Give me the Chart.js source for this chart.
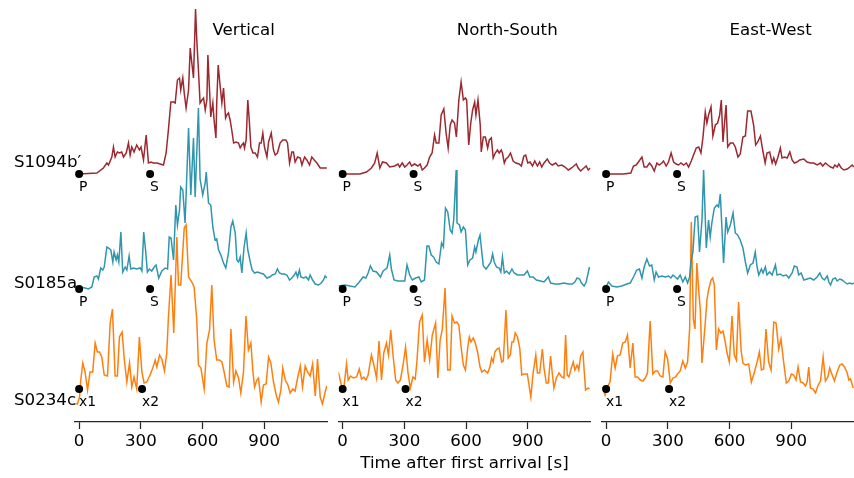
<!DOCTYPE html>
<html>
<head>
<meta charset="utf-8">
<script src="https://cdn.jsdelivr.net/npm/chart.js@4/dist/chart.umd.min.js"></script>
<style>
  html, body { margin: 0; padding: 0; background: #fff; }
  #wrap { position: relative; width: 854px; height: 478px; }
  #wrap canvas { position: absolute; left: 0; top: 0; }
</style>
</head>
<body>
<div id="wrap">
  <canvas id="c0" width="854" height="478"></canvas>
  <canvas id="c1" width="854" height="478"></canvas>
  <canvas id="c2" width="854" height="478"></canvas>
</div>
<script>
// stations (top to bottom) and components
const stations = ['S1094b\u2032', 'S0185a', 'S0234c'];
const components = ['Vertical', 'North-South', 'East-West'];
const stationColors = ['#9c2830', '#3096ad', '#ff7f0e'];
const stationOffset = [248, 133, 33];     // trace baseline (y units)
const stationLabelPos = [259, 138, 21];   // where station names sit on the y axis
const pickTimes = [[0, 345], [0, 345], [0, 306]];
const pickNames = [['P', 'S'], ['P', 'S'], ['x1', 'x2']];
const xTicks = [0, 300, 600, 900];

// envelopes: [time after first arrival (s), relative amplitude]
const vertical_S1094b = [[0,0],[86,1],[118,6],[135,11],[143,9],[159,17],[167,27],[175,17],[186,22],[196,21],[207,22],[216,17],[229,21],[240,31],[248,19],[256,27],[267,22],[280,29],[293,24],[301,27],[313,14],[326,39],[337,11],[349,12],[361,11],[378,11],[394,10],[410,9],[423,21],[434,44],[446,72],[459,72],[467,71],[478,94],[488,96],[494,84],[504,96],[511,81],[520,66],[532,84],[540,126],[548,111],[556,96],[566,165],[572,134],[580,104],[588,71],[597,74],[605,76],[613,64],[621,74],[626,119],[634,84],[640,57],[650,71],[656,54],[665,36],[669,71],[676,109],[686,87],[694,71],[702,86],[712,56],[718,59],[726,61],[734,54],[742,44],[751,31],[763,32],[775,31],[783,26],[791,29],[799,31],[804,26],[812,34],[820,74],[827,54],[835,27],[845,21],[856,21],[867,17],[877,31],[885,31],[893,41],[901,27],[913,17],[921,32],[934,41],[945,24],[953,19],[964,21],[977,31],[990,34],[1005,34],[1013,31],[1023,11],[1034,22],[1042,22],[1050,12],[1062,17],[1075,16],[1083,9],[1096,17],[1107,14],[1120,9],[1131,17],[1143,14],[1156,11],[1172,6],[1188,6],[1204,6]];
const vertical_S0185a = [[0,1],[5,2],[29,1],[45,0],[62,2],[73,12],[86,13],[94,10],[105,21],[115,19],[122,22],[135,42],[143,41],[154,39],[164,27],[170,37],[180,29],[186,34],[193,27],[203,57],[212,17],[224,22],[232,19],[243,33],[251,20],[264,21],[280,20],[297,21],[305,18],[314,57],[323,39],[332,17],[342,20],[353,18],[365,22],[374,24],[387,11],[402,18],[418,21],[430,20],[438,52],[447,51],[459,29],[470,84],[478,64],[488,79],[494,102],[504,99],[515,66],[532,161],[543,94],[556,151],[564,92],[580,181],[588,110],[601,94],[613,106],[618,117],[629,86],[640,84],[650,62],[661,49],[669,50],[678,39],[689,34],[702,26],[713,21],[726,36],[738,62],[747,68],[759,56],[767,29],[775,27],[783,32],[791,16],[802,42],[812,56],[820,39],[832,27],[841,19],[853,16],[867,17],[880,16],[896,15],[913,11],[926,12],[939,14],[953,15],[964,20],[974,16],[986,15],[997,15],[1010,14],[1023,9],[1034,11],[1046,14],[1054,17],[1062,12],[1071,19],[1078,12],[1091,11],[1104,12],[1115,9],[1123,14],[1135,9],[1148,5],[1164,4],[1177,6],[1188,9],[1196,13],[1204,11]];
const vertical_S0234c = [[-19,-15],[-8,-15],[2,-8],[8,9],[18,26],[29,17],[41,-1],[53,17],[66,17],[78,46],[89,37],[99,37],[110,32],[122,14],[138,13],[151,66],[162,80],[175,13],[186,13],[196,52],[209,57],[219,31],[232,7],[245,26],[256,2],[267,12],[280,0],[293,52],[305,17],[316,6],[329,7],[345,14],[358,21],[370,29],[378,22],[391,34],[402,30],[415,18],[426,36],[434,71],[447,114],[460,56],[475,152],[483,104],[494,104],[511,161],[520,164],[532,112],[548,107],[559,102],[572,69],[580,24],[592,21],[608,0],[621,46],[634,59],[645,104],[656,49],[669,29],[682,29],[694,27],[705,17],[718,3],[729,2],[738,60],[751,7],[762,18],[775,11],[786,-4],[799,17],[811,73],[823,39],[835,46],[845,17],[853,2],[864,9],[872,11],[885,-13],[896,4],[909,5],[921,32],[932,26],[945,7],[958,-6],[969,-13],[981,-1],[990,21],[1002,9],[1015,4],[1026,-4],[1039,0],[1050,-2],[1062,11],[1075,23],[1086,2],[1099,23],[1110,17],[1123,13],[1135,25],[1148,-7],[1159,30],[1172,-8],[1183,-15],[1196,-3],[1204,3]];

const northSouth_S1094b = [[0,0],[84,0],[116,2],[140,6],[156,11],[168,21],[181,6],[194,12],[213,11],[229,7],[253,8],[269,10],[277,7],[290,11],[302,7],[313,9],[326,12],[335,8],[350,10],[366,8],[377,10],[387,4],[398,6],[411,9],[423,17],[435,21],[447,39],[455,31],[468,31],[479,59],[492,65],[503,41],[513,26],[523,49],[532,54],[544,51],[553,37],[565,74],[576,92],[587,74],[597,76],[603,74],[613,29],[623,51],[632,64],[642,72],[648,59],[658,74],[669,49],[674,22],[684,37],[694,37],[705,26],[713,34],[723,36],[732,16],[742,21],[753,24],[761,21],[771,24],[777,21],[786,11],[794,15],[805,17],[816,21],[829,13],[842,11],[858,10],[869,8],[881,18],[890,19],[900,11],[911,12],[923,8],[934,13],[947,8],[958,12],[968,7],[979,11],[995,15],[1006,11],[1019,9],[1036,11],[1048,8],[1065,9],[1081,7],[1097,4],[1113,6],[1124,8],[1136,10],[1145,6],[1157,3],[1173,6],[1184,8],[1194,4],[1204,6]];
const northSouth_S0185a = [[-20,3],[11,4],[35,3],[60,2],[81,7],[100,12],[113,11],[124,16],[135,23],[148,18],[165,17],[184,12],[197,18],[216,21],[229,34],[237,20],[250,9],[269,8],[302,8],[313,24],[326,14],[339,9],[355,11],[371,12],[382,7],[398,9],[410,43],[419,43],[431,34],[442,32],[455,27],[468,25],[481,46],[490,42],[500,81],[511,77],[523,59],[532,56],[540,69],[552,119],[556,66],[568,64],[576,57],[587,62],[597,59],[608,24],[619,29],[632,31],[642,42],[648,37],[660,49],[668,54],[674,42],[684,23],[697,20],[708,23],[721,27],[729,35],[737,27],[748,22],[761,21],[769,17],[777,32],[786,16],[797,18],[810,15],[823,20],[834,16],[850,14],[866,14],[882,14],[898,18],[910,12],[926,12],[942,9],[963,8],[979,7],[1000,12],[1011,6],[1032,5],[1052,5],[1076,6],[1097,5],[1116,5],[1129,7],[1140,11],[1152,10],[1161,6],[1174,3],[1184,7],[1200,22]];
const northSouth_S0234c = [[-21,17],[-5,3],[6,1],[19,25],[27,9],[39,13],[52,11],[68,12],[81,20],[92,10],[103,12],[113,9],[124,14],[140,34],[152,24],[165,11],[177,48],[189,9],[200,36],[213,46],[223,34],[234,59],[245,34],[258,9],[269,6],[281,9],[294,24],[306,42],[318,16],[329,1],[342,12],[353,10],[361,27],[374,67],[387,74],[398,27],[411,49],[423,29],[436,54],[452,66],[463,11],[474,49],[484,59],[492,82],[498,101],[511,19],[523,19],[532,73],[544,66],[555,67],[565,64],[576,42],[587,24],[597,19],[608,41],[616,52],[624,47],[635,51],[645,46],[656,37],[668,22],[677,17],[689,19],[705,16],[716,22],[724,31],[732,27],[740,37],[750,40],[761,41],[773,27],[781,28],[794,79],[805,31],[815,34],[823,47],[831,47],[839,56],[850,52],[861,41],[871,14],[882,15],[898,15],[915,-8],[926,16],[939,34],[947,16],[958,16],[971,40],[979,21],[990,6],[1000,6],[1011,33],[1019,16],[1027,1],[1039,11],[1052,16],[1065,12],[1076,11],[1084,54],[1092,14],[1100,12],[1113,22],[1121,27],[1129,19],[1140,24],[1148,19],[1157,33],[1168,37],[1181,-1],[1194,1],[1200,0]];

const eastWest_S1094b = [[0,0],[84,0],[120,1],[133,8],[146,9],[157,12],[174,17],[185,7],[198,7],[211,11],[222,8],[234,3],[247,11],[258,9],[271,11],[279,13],[292,8],[303,12],[316,21],[328,12],[341,10],[352,9],[364,11],[377,9],[390,11],[401,7],[414,13],[425,19],[438,26],[450,27],[461,21],[471,37],[482,62],[490,51],[498,59],[510,67],[519,38],[531,49],[542,51],[552,59],[560,74],[568,32],[583,69],[591,27],[604,31],[617,31],[628,27],[641,17],[652,20],[665,37],[677,38],[688,63],[704,63],[717,49],[727,29],[737,32],[750,38],[761,24],[773,11],[782,21],[795,22],[807,11],[815,16],[824,10],[834,16],[847,26],[855,16],[867,17],[880,16],[893,22],[904,14],[915,11],[928,12],[941,14],[961,15],[977,12],[993,11],[1009,11],[1026,9],[1042,11],[1053,8],[1066,11],[1078,9],[1091,7],[1104,6],[1112,9],[1123,7],[1131,10],[1143,6],[1156,4],[1172,5],[1185,7],[1196,9],[1204,7]];
const eastWest_S0185a = [[0,2],[11,7],[28,3],[52,2],[76,3],[101,5],[117,6],[133,12],[149,19],[162,20],[174,11],[185,22],[198,30],[211,23],[222,24],[234,9],[243,17],[255,12],[271,13],[287,12],[304,13],[315,11],[325,14],[336,12],[347,10],[360,14],[373,7],[385,12],[396,6],[406,12],[412,27],[422,37],[433,72],[445,73],[454,37],[466,69],[474,119],[487,41],[498,69],[506,52],[514,66],[526,81],[539,84],[547,82],[555,95],[571,26],[583,72],[591,57],[604,64],[617,76],[628,56],[639,54],[652,49],[665,41],[677,27],[688,16],[701,24],[714,26],[725,37],[734,22],[742,14],[755,20],[763,16],[774,22],[782,14],[795,17],[807,14],[823,24],[831,14],[847,15],[860,13],[876,14],[888,11],[904,16],[915,23],[928,22],[936,14],[948,16],[961,9],[977,10],[993,11],[1009,9],[1026,12],[1039,16],[1050,11],[1061,9],[1075,13],[1083,7],[1091,4],[1102,10],[1115,11],[1123,8],[1136,10],[1147,9],[1159,7],[1172,5],[1185,6],[1196,5],[1204,6]];
const eastWest_S0234c = [[-16,2],[-5,-6],[6,2],[19,7],[32,35],[44,21],[55,33],[68,34],[81,46],[93,47],[104,54],[117,21],[130,46],[141,12],[153,12],[166,9],[179,8],[190,11],[201,16],[214,68],[227,15],[239,18],[250,18],[263,13],[276,12],[287,37],[299,30],[312,6],[325,11],[338,12],[347,15],[360,18],[373,28],[385,21],[396,27],[406,60],[414,167],[424,70],[432,60],[441,126],[451,96],[458,79],[466,26],[474,46],[482,66],[490,89],[498,99],[510,109],[518,111],[526,104],[536,39],[547,60],[558,56],[568,58],[579,47],[588,36],[599,27],[612,73],[623,34],[633,29],[644,87],[656,39],[665,26],[677,24],[693,25],[706,7],[721,17],[734,27],[745,37],[755,19],[766,20],[777,60],[790,27],[802,19],[815,67],[826,66],[839,40],[850,50],[863,27],[876,6],[888,8],[901,15],[912,14],[923,9],[933,22],[945,7],[958,6],[969,3],[977,7],[985,22],[993,1],[1006,0],[1018,-4],[1029,3],[1042,8],[1055,32],[1066,8],[1078,12],[1087,21],[1099,14],[1110,8],[1123,17],[1136,24],[1147,25],[1159,22],[1172,16],[1180,9],[1188,10],[1201,1]];

const traces = [
  [vertical_S1094b, vertical_S0185a, vertical_S0234c],
  [northSouth_S1094b, northSouth_S0185a, northSouth_S0234c],
  [eastWest_S1094b, eastWest_S0185a, eastWest_S0234c]
];

Chart.defaults.font.family = "'DejaVu Sans', sans-serif";
Chart.defaults.color = '#000';

const fontSize = 16.67;
const panelLeft = [75, 338.5, 602];
const panelWidth = 252;

// pick labels under the dots + panel title
const annotate = {
  id: 'annotate',
  afterDatasetsDraw(chart) {
    const ctx = chart.ctx;
    const xs = chart.scales.x, ys = chart.scales.y;
    ctx.save();
    ctx.fillStyle = '#000';
    ctx.font = "13.9px 'DejaVu Sans'";
    ctx.textAlign = 'left';
    ctx.textBaseline = 'alphabetic';
    stations.forEach((s, i) => {
      pickTimes[i].forEach((t, j) => {
        ctx.fillText(pickNames[i][j], xs.getPixelForValue(t), ys.getPixelForValue(stationOffset[i]) + 16.5);
      });
    });
    ctx.font = fontSize + "px 'DejaVu Sans'";
    ctx.textAlign = 'center';
    ctx.textBaseline = 'middle';
    ctx.fillText(chart.options.panelTitle, xs.getPixelForValue(800), 31);
    ctx.restore();
  }
};

function makePanel(k) {
  const dots = [];
  stations.forEach((s, i) => pickTimes[i].forEach(t => dots.push({x: t, y: stationOffset[i]})));
  const datasets = [{
    data: dots, showLine: false, pointRadius: 4, pointHoverRadius: 4,
    pointBackgroundColor: '#000', pointBorderWidth: 0, order: 0
  }];
  stations.forEach((s, i) => {
    datasets.push({
      label: s,
      data: traces[k][i].map(p => ({x: p[0], y: stationOffset[i] + p[1]})),
      borderColor: stationColors[i],
      borderWidth: 1.5,
      pointRadius: 0,
      pointHoverRadius: 0,
      tension: 0,
      fill: false,
      order: i + 1
    });
  });

  new Chart(document.getElementById('c' + k), {
    type: 'line',
    data: { datasets: datasets },
    plugins: [annotate],
    options: {
      panelTitle: components[k],
      responsive: false,
      animation: false,
      layout: {
        autoPadding: false,
        padding: { left: k === 0 ? 14 : panelLeft[k], right: 854 - panelLeft[k] - panelWidth, top: 0, bottom: 0 }
      },
      plugins: { legend: { display: false }, tooltip: { enabled: false } },
      scales: {
        x: {
          type: 'linear', min: -20, max: 1205,
          afterBuildTicks: s => { s.ticks = xTicks.map(v => ({ value: v })); },
          afterFit: s => { s.height = 56; },
          grid: { display: true, drawOnChartArea: false, drawTicks: true, tickLength: 7, tickColor: '#262626', tickWidth: 1.25 },
          border: { display: true, color: '#262626', width: 1.25 },
          ticks: { font: { size: fontSize }, color: '#000', padding: 3, maxRotation: 0, autoSkip: false },
          title: {
            display: k === 1, text: 'Time after first arrival [s]',
            font: { size: fontSize }, color: '#000', padding: { top: 0, bottom: 4 }
          }
        },
        y: {
          type: 'linear', min: 0, max: 422, display: k === 0,
          afterBuildTicks: s => { s.ticks = stationLabelPos.map(v => ({ value: v })); },
          afterFit: s => {
            s.width = k === 0 ? 61 : 0;
            s.paddingTop = 0;
            s.paddingBottom = 0;
          },
          grid: { display: false },
          border: { display: false },
          ticks: {
            font: { size: fontSize }, color: '#000', mirror: true, padding: -61,
            callback: v => stations[stationLabelPos.indexOf(v)]
          }
        }
      }
    }
  });
}

[0, 1, 2].forEach(makePanel);
</script>
</body>
</html>
